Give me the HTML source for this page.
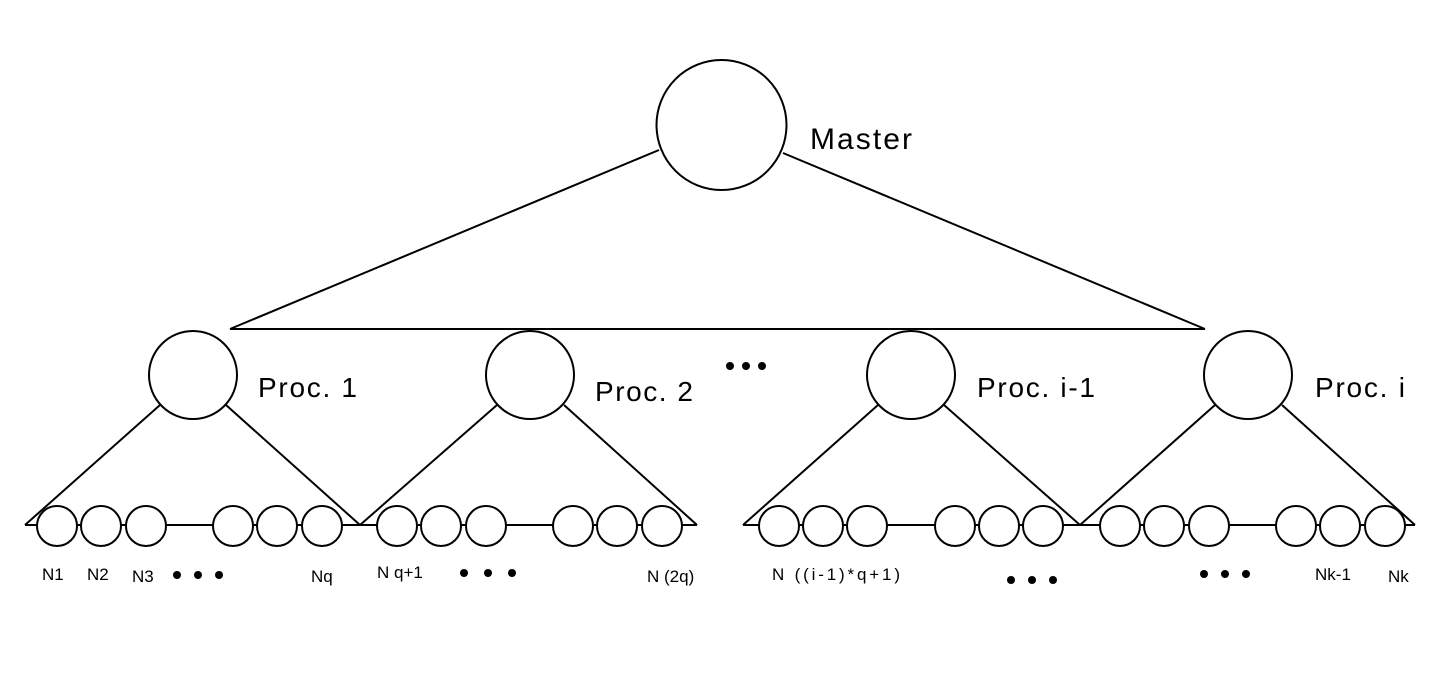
<!DOCTYPE html>
<html><head><meta charset="utf-8"><style>
html,body{margin:0;padding:0;background:#fff;}
svg{display:block;}
text{font-family:"Liberation Sans",sans-serif;fill:#000;}
</style></head><body>
<svg width="1431" height="697" viewBox="0 0 1431 697" xmlns="http://www.w3.org/2000/svg">
<g stroke="#000" stroke-width="2" fill="none">
<line x1="659" y1="150" x2="230" y2="329"/>
<line x1="783" y1="153" x2="1205" y2="329"/>
<line x1="230" y1="329" x2="1205" y2="329"/>
<line x1="160" y1="405" x2="25" y2="525"/>
<line x1="226" y1="405" x2="360" y2="525"/>
<line x1="497" y1="405" x2="360" y2="525"/>
<line x1="564" y1="405" x2="697" y2="525"/>
<line x1="878" y1="405" x2="743" y2="525"/>
<line x1="944" y1="405" x2="1080" y2="525"/>
<line x1="1215" y1="405" x2="1080" y2="525"/>
<line x1="1282" y1="405" x2="1415" y2="525"/>
<line x1="25" y1="525" x2="697" y2="525"/>
<line x1="743" y1="525" x2="1415" y2="525"/>
</g>
<g stroke="#000" stroke-width="2" fill="#fff">
<circle cx="721.5" cy="125" r="65"/>
<circle cx="193" cy="375" r="44"/>
<circle cx="530" cy="375" r="44"/>
<circle cx="911" cy="375" r="44"/>
<circle cx="1248" cy="375" r="44"/>
<ellipse cx="57" cy="526" rx="20" ry="20"/><ellipse cx="101" cy="526" rx="20" ry="20"/><ellipse cx="146" cy="526" rx="20" ry="20"/>
<ellipse cx="233" cy="526" rx="20" ry="20"/><ellipse cx="277" cy="526" rx="20" ry="20"/><ellipse cx="322" cy="526" rx="20" ry="20"/>
<ellipse cx="397" cy="526" rx="20" ry="20"/><ellipse cx="441" cy="526" rx="20" ry="20"/><ellipse cx="486" cy="526" rx="20" ry="20"/>
<ellipse cx="573" cy="526" rx="20" ry="20"/><ellipse cx="617" cy="526" rx="20" ry="20"/><ellipse cx="662" cy="526" rx="20" ry="20"/>
<ellipse cx="779" cy="526" rx="20" ry="20"/><ellipse cx="823" cy="526" rx="20" ry="20"/><ellipse cx="867" cy="526" rx="20" ry="20"/>
<ellipse cx="955" cy="526" rx="20" ry="20"/><ellipse cx="999" cy="526" rx="20" ry="20"/><ellipse cx="1043" cy="526" rx="20" ry="20"/>
<ellipse cx="1120" cy="526" rx="20" ry="20"/><ellipse cx="1164" cy="526" rx="20" ry="20"/><ellipse cx="1209" cy="526" rx="20" ry="20"/>
<ellipse cx="1296" cy="526" rx="20" ry="20"/><ellipse cx="1340" cy="526" rx="20" ry="20"/><ellipse cx="1385" cy="526" rx="20" ry="20"/>
</g>
<g fill="#000">
<circle cx="730" cy="366" r="4"/><circle cx="746" cy="366" r="4"/><circle cx="762" cy="366" r="4"/>
<circle cx="177" cy="575" r="4"/><circle cx="198" cy="575" r="4"/><circle cx="219" cy="575" r="4"/>
<circle cx="464" cy="573" r="4"/><circle cx="488" cy="573" r="4"/><circle cx="512" cy="573" r="4"/>
<circle cx="1011" cy="580" r="4"/><circle cx="1032" cy="580" r="4"/><circle cx="1053" cy="580" r="4"/>
<circle cx="1204" cy="574" r="4"/><circle cx="1225" cy="574" r="4"/><circle cx="1246" cy="574" r="4"/>
</g>
<text x="810" y="149" font-size="30" textLength="102">Master</text>
<text x="258" y="397" font-size="28" textLength="99">Proc. 1</text>
<text x="595" y="401" font-size="28" textLength="98">Proc. 2</text>
<text x="977" y="397" font-size="28" textLength="118">Proc. i-1</text>
<text x="1315" y="397" font-size="28" textLength="90">Proc. i</text>
<g font-size="17">
<text x="42" y="580">N1</text>
<text x="87" y="580">N2</text>
<text x="132" y="582">N3</text>
<text x="311" y="582">Nq</text>
<text x="377" y="578">N q+1</text>
<text x="647" y="582">N (2q)</text>
<text x="772" y="580" textLength="128">N ((i-1)*q+1)</text>
<text x="1315" y="580">Nk-1</text>
<text x="1388" y="582">Nk</text>
</g>
</svg>
</body></html>
